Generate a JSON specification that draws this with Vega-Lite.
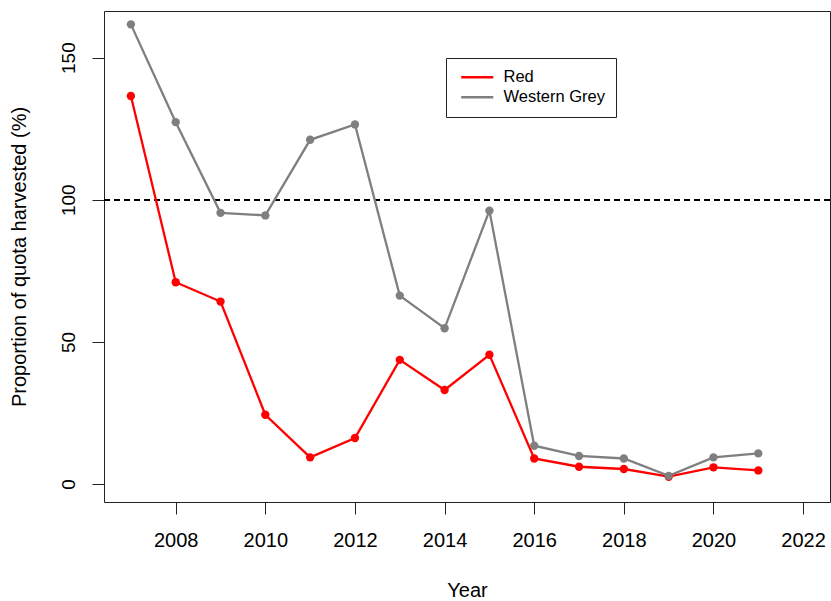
{
  "$schema": "https://vega.github.io/schema/vega-lite/v6.json",
  "width": 726,
  "height": 491,
  "autosize": {"type": "none"},
  "padding": {"left": 104, "top": 11, "right": 1, "bottom": 99},
  "background": "white",
  "config": {
    "font": "Liberation Sans",
    "view": {"stroke": "#222", "strokeWidth": 1},
    "axis": {"grid": false, "domain": false, "tickColor": "#222", "tickSize": 12, "labelColor": "black", "titleColor": "black", "titleFontWeight": "normal", "labelFont": "Liberation Sans", "titleFont": "Liberation Sans"}
  },
  "data": {
    "values": [
      {"year": 2007, "species": "Red", "value": 136.5},
      {"year": 2008, "species": "Red", "value": 71.0},
      {"year": 2009, "species": "Red", "value": 64.2},
      {"year": 2010, "species": "Red", "value": 24.4},
      {"year": 2011, "species": "Red", "value": 9.4},
      {"year": 2012, "species": "Red", "value": 16.2},
      {"year": 2013, "species": "Red", "value": 43.7},
      {"year": 2014, "species": "Red", "value": 33.1},
      {"year": 2015, "species": "Red", "value": 45.5},
      {"year": 2016, "species": "Red", "value": 9.0},
      {"year": 2017, "species": "Red", "value": 6.1},
      {"year": 2018, "species": "Red", "value": 5.3},
      {"year": 2019, "species": "Red", "value": 2.6},
      {"year": 2020, "species": "Red", "value": 5.9},
      {"year": 2021, "species": "Red", "value": 4.8},
      {"year": 2007, "species": "Western Grey", "value": 161.7},
      {"year": 2008, "species": "Western Grey", "value": 127.3},
      {"year": 2009, "species": "Western Grey", "value": 95.4},
      {"year": 2010, "species": "Western Grey", "value": 94.5},
      {"year": 2011, "species": "Western Grey", "value": 121.1},
      {"year": 2012, "species": "Western Grey", "value": 126.5},
      {"year": 2013, "species": "Western Grey", "value": 66.3},
      {"year": 2014, "species": "Western Grey", "value": 54.8},
      {"year": 2015, "species": "Western Grey", "value": 96.2},
      {"year": 2016, "species": "Western Grey", "value": 13.5},
      {"year": 2017, "species": "Western Grey", "value": 9.9},
      {"year": 2018, "species": "Western Grey", "value": 9.0},
      {"year": 2019, "species": "Western Grey", "value": 2.9},
      {"year": 2020, "species": "Western Grey", "value": 9.4},
      {"year": 2021, "species": "Western Grey", "value": 10.8}
    ]
  },
  "layer": [
    {
      "mark": {"type": "rule", "color": "black", "strokeWidth": 1.2, "strokeDash": [6, 4]},
      "encoding": {"y": {"datum": 100, "type": "quantitative"}}
    },
    {
      "mark": {"type": "line", "strokeWidth": 2.3, "point": {"filled": true, "size": 70, "opacity": 1}},
      "encoding": {
        "x": {
          "field": "year", "type": "quantitative",
          "scale": {"domain": [2006.4, 2022.6], "nice": false, "zero": false},
          "axis": {"values": [2008, 2010, 2012, 2014, 2016, 2018, 2020, 2022], "format": "d", "labelFontSize": 20, "labelBaseline": "alphabetic", "labelPadding": 32, "title": "Year", "titleFontSize": 20, "titleBaseline": "alphabetic", "titleY": 94}
        },
        "y": {
          "field": "value", "type": "quantitative",
          "scale": {"domain": [-6.3, 166.4], "nice": false, "zero": false},
          "axis": {"values": [0, 50, 100, 150], "labelFontSize": 19, "labelAngle": -90, "labelAlign": "center", "labelBaseline": "alphabetic", "labelPadding": 18, "title": "Proportion of quota harvested (%)", "titleFontSize": 20, "titleX": -85, "titleBaseline": "middle"}
        },
        "color": {
          "field": "species", "type": "nominal",
          "scale": {"domain": ["Red", "Western Grey"], "range": ["#FF0000", "#7F7F7F"]},
          "legend": {
            "title": null, "orient": "none", "legendX": 342, "legendY": 47,
            "symbolType": "M-3,0H3", "symbolSize": 114, "symbolStrokeWidth": 2.5,
            "labelFontSize": 16.5, "labelColor": "black", "labelOffset": 18,
            "strokeColor": "#222", "padding": 11, "symbolOffset": 12, "rowPadding": 3
          }
        }
      }
    }
  ]
}
